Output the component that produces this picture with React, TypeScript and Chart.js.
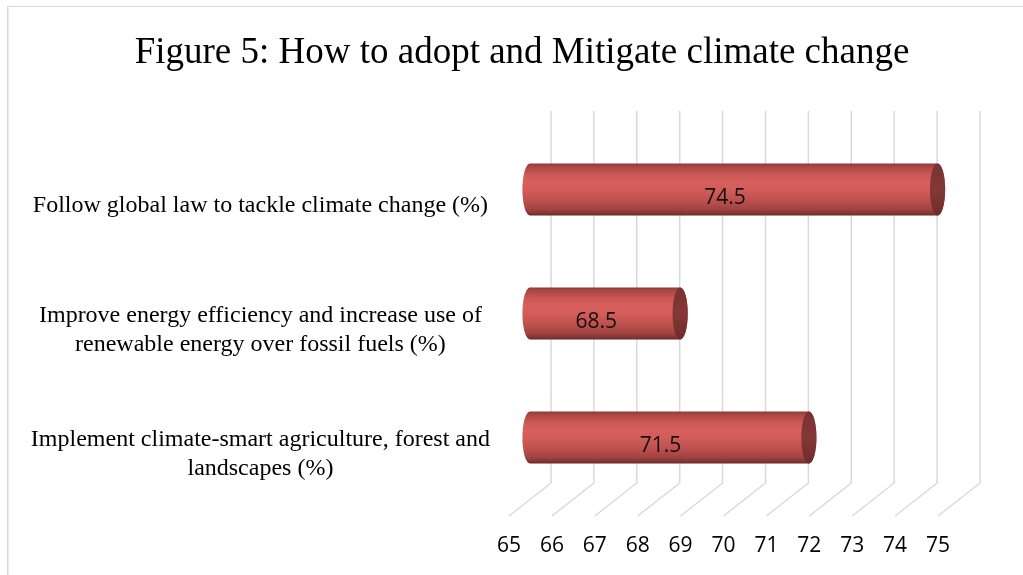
import { useEffect, useRef } from "react";
import { Chart, registerables } from "chart.js";

Chart.register(...registerables);

const chartTitle = "Figure 5: How to adopt and Mitigate climate change";
const categories: string[][] = [
  ["Follow global law to tackle climate change (%)"],
  ["Improve energy efficiency and increase use of", "renewable energy over fossil fuels (%)"],
  ["Implement climate-smart agriculture, forest and", "landscapes (%)"],
];
const values: number[] = [74.5, 68.5, 71.5];
const axisMin = 65;
const axisMax = 75;
const axisStep = 1;

const DX = 42;
const DY = -33;
const SERIF = '"Liberation Serif", "Times New Roman", serif';
const SANS = '"Open Sans", "Noto Sans", sans-serif';

const threeD = {
  id: "threeD",
  beforeDraw(chart: any) {
    const ctx = chart.ctx;
    ctx.save();
    ctx.fillStyle = "#d9d9d9";
    ctx.fillRect(7, 6, 1.5, chart.height);
    ctx.fillRect(7, 6, chart.width, 1);
    ctx.restore();
  },
  beforeDatasetsDraw(chart: any) {
    const { ctx, chartArea, scales } = chart;
    const xs = scales.x;
    ctx.save();
    ctx.strokeStyle = "#d9d9d9";
    ctx.lineWidth = 1.5;
    xs.ticks.forEach((t: any) => {
      const px = xs.getPixelForValue(t.value);
      ctx.beginPath();
      ctx.moveTo(px + DX, chartArea.top + DY);
      ctx.lineTo(px + DX, chartArea.bottom + DY);
      ctx.lineTo(px, chartArea.bottom);
      ctx.stroke();
    });
    ctx.restore();
  },
  afterDatasetsDraw(chart: any) {
    const ctx = chart.ctx;
    const xs = chart.scales.x;
    const meta = chart.getDatasetMeta(0);
    meta.data.forEach((bar: any, i: number) => {
      const { x, y, height } = bar.getProps(["x", "y", "height"], true);
      const base = xs.getPixelForValue(axisMin);
      const x0 = base + DX / 2;
      const x1 = x + DX / 2;
      const cy = y + DY / 2;
      const hh = height / 2;
      const rx = 7.6;
      ctx.save();
      const g = ctx.createLinearGradient(0, cy - hh, 0, cy + hh);
      g.addColorStop(0, "#8a3937");
      g.addColorStop(0.05, "#a94441");
      g.addColorStop(0.2, "#c95754");
      g.addColorStop(0.36, "#d7605d");
      g.addColorStop(0.52, "#d15c59");
      g.addColorStop(0.72, "#bc504d");
      g.addColorStop(0.88, "#a04341");
      g.addColorStop(0.96, "#803433");
      g.addColorStop(1, "#652827");
      ctx.fillStyle = g;
      ctx.beginPath();
      ctx.moveTo(x0, cy - hh);
      ctx.lineTo(x1, cy - hh);
      ctx.ellipse(x1, cy, rx, hh, 0, -Math.PI / 2, Math.PI / 2);
      ctx.lineTo(x0, cy + hh);
      ctx.ellipse(x0, cy, rx, hh, 0, Math.PI / 2, Math.PI * 1.5);
      ctx.closePath();
      ctx.fill();
      const cg = ctx.createLinearGradient(0, cy - hh, 0, cy + hh);
      cg.addColorStop(0, "#783131");
      cg.addColorStop(0.5, "#833837");
      cg.addColorStop(1, "#6e2b2a");
      ctx.fillStyle = cg;
      ctx.beginPath();
      ctx.ellipse(x1, cy, rx, hh, 0, 0, Math.PI * 2);
      ctx.fill();
      ctx.fillStyle = "#111111";
      ctx.font = `21px ${SANS}`;
      ctx.textAlign = "center";
      ctx.textBaseline = "middle";
      const lx = (base + x) / 2 + DX * 0.29;
      const ly = y + DY * 0.29 + 1.5;
      ctx.fillText(String(values[i]), lx, ly);
      ctx.restore();
    });
  },
};

export default function App() {
  const ref = useRef<HTMLCanvasElement | null>(null);
  useEffect(() => {
    if (!ref.current) return;
    const chart = new Chart(ref.current, {
      type: "bar",
      data: {
        labels: categories,
        datasets: [
          {
            data: values,
            base: axisMin,
            backgroundColor: "rgba(0,0,0,0)",
            borderWidth: 0,
            categoryPercentage: 1,
            barPercentage: 0.42,
          },
        ],
      },
      options: {
        indexAxis: "y",
        responsive: false,
        animation: false,
        events: [],
        layout: { padding: { left: 25, right: 4, top: 0, bottom: 0 } },
        plugins: {
          legend: { display: false },
          tooltip: { enabled: false },
          title: {
            display: true,
            text: chartTitle,
            color: "#000000",
            font: { family: SERIF, size: 37, weight: "normal", lineHeight: 1.2 },
            padding: { top: 31.5, bottom: 68.1 },
          },
        },
        scales: {
          x: {
            type: "linear",
            min: axisMin,
            max: axisMax,
            grid: { display: false, drawTicks: false },
            border: { display: false },
            ticks: {
              stepSize: axisStep,
              color: "#000000",
              font: { family: SANS, size: 21 },
              padding: 17,
              maxRotation: 0,
              autoSkip: false,
            },
            afterFit: (s: any) => {
              s.height = 59;
            },
          },
          y: {
            type: "category",
            position: "left",
            grid: { display: false, drawTicks: false },
            border: { display: false },
            ticks: {
              color: "#000000",
              crossAlign: "center",
              padding: 19,
              font: { family: SERIF, size: 24, lineHeight: 1.2 },
            },
            afterFit: (s: any) => {
              s.width = 484;
            },
          },
          yRight: {
            type: "category",
            position: "right",
            grid: { display: false, drawTicks: false },
            border: { display: false },
            ticks: { display: false },
            afterFit: (s: any) => {
              s.width = 81;
            },
          },
        },
      },
      plugins: [threeD],
    } as any);
    return () => chart.destroy();
  }, []);
  return (
    <div style={{ position: "fixed", left: 0, top: 0, width: 1023, height: 575, background: "#ffffff" }}>
      <canvas ref={ref} width={1023} height={575} style={{ display: "block" }} />
    </div>
  );
}
